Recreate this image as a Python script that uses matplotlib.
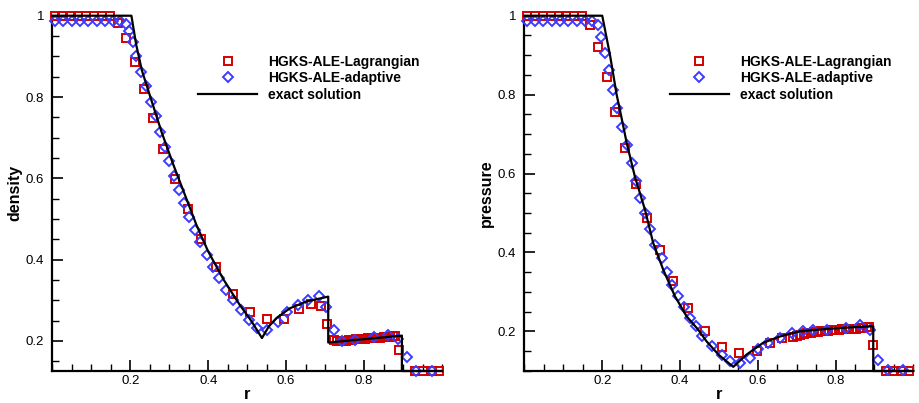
import numpy as np
import matplotlib
matplotlib.use('Agg')
import matplotlib.pyplot as plt
from matplotlib.ticker import MultipleLocator, FixedLocator, FuncFormatter

plt.rcParams['font.family'] = ['Liberation Sans', 'DejaVu Sans']

# ---------------- density ----------------
rho_exact_r = [0.0, 0.203, 0.215, 0.23, 0.255, 0.28, 0.31, 0.34, 0.37, 0.40, 0.44, 0.48, 0.51, 0.538,
               0.555, 0.575, 0.609, 0.652, 0.708, 0.708, 0.897, 0.897, 1.0]
rho_exact = [1.0, 1.0, 0.93, 0.865, 0.79, 0.715, 0.635, 0.56, 0.485, 0.42, 0.35, 0.29, 0.25, 0.207,
             0.235, 0.256, 0.280, 0.297, 0.309, 0.196, 0.213, 0.126, 0.126]

rho_lag_r = [0.007, 0.026, 0.047, 0.067, 0.086, 0.107, 0.127, 0.148, 0.169, 0.189, 0.212, 0.236,
             0.259, 0.285, 0.316, 0.348, 0.382, 0.421, 0.464, 0.508, 0.552, 0.595, 0.633, 0.665,
             0.690, 0.706, 0.722, 0.730, 0.738, 0.746, 0.754, 0.762, 0.770, 0.778, 0.786, 0.794,
             0.802, 0.810, 0.818, 0.826, 0.834, 0.842, 0.850, 0.858, 0.866, 0.873, 0.880, 0.890,
             0.930, 0.951, 0.973, 0.992]
rho_lag = [1.0, 1.0, 1.0, 1.0, 1.0, 1.0, 1.0, 1.0, 0.983, 0.944, 0.886, 0.819,
           0.748, 0.673, 0.598, 0.524, 0.451, 0.381, 0.316, 0.271, 0.253, 0.254, 0.279, 0.292,
           0.286, 0.242, 0.203, 0.200, 0.199, 0.200, 0.201, 0.202, 0.203, 0.204, 0.204, 0.205,
           0.205, 0.206, 0.207, 0.207, 0.208, 0.208, 0.209, 0.210, 0.210, 0.211, 0.212, 0.178,
           0.125, 0.125, 0.125, 0.125]

rho_ada_r = [0.007, 0.028, 0.050, 0.071, 0.092, 0.114, 0.135, 0.156, 0.175, 0.190, 0.198, 0.207,
             0.216, 0.227, 0.240, 0.252, 0.266, 0.276, 0.289, 0.300, 0.312, 0.326, 0.338, 0.351,
             0.366, 0.379, 0.397, 0.413, 0.428, 0.446, 0.464, 0.483, 0.505, 0.526, 0.552, 0.580,
             0.601, 0.631, 0.656, 0.684, 0.701, 0.723, 0.743, 0.776, 0.825, 0.862, 0.886, 0.910,
             0.933, 0.973]
rho_ada = [0.987, 0.987, 0.987, 0.987, 0.987, 0.987, 0.987, 0.987, 0.987, 0.980, 0.962, 0.935,
           0.900, 0.862, 0.826, 0.788, 0.753, 0.715, 0.678, 0.643, 0.606, 0.571, 0.539, 0.506,
           0.473, 0.444, 0.412, 0.383, 0.354, 0.326, 0.300, 0.277, 0.252, 0.231, 0.226, 0.247,
           0.270, 0.288, 0.301, 0.310, 0.283, 0.226, 0.199, 0.202, 0.209, 0.215, 0.205, 0.160,
           0.125, 0.125]

# ---------------- pressure ----------------
p_exact_r = [0.0, 0.2, 0.22, 0.237, 0.2455, 0.263, 0.284, 0.310, 0.331, 0.357, 0.387, 0.417, 0.447,
             0.468, 0.50, 0.537, 0.571, 0.614, 0.657, 0.708, 0.777, 0.837, 0.897, 0.897, 1.0]
p_exact = [1.0, 1.0, 0.90, 0.80, 0.761, 0.677, 0.592, 0.508, 0.424, 0.356, 0.289, 0.238, 0.204,
           0.175, 0.14, 0.11, 0.141, 0.171, 0.187, 0.200, 0.206, 0.210, 0.213, 0.0995, 0.0995]

p_lag_r = [0.006, 0.027, 0.047, 0.067, 0.088, 0.108, 0.128, 0.148, 0.168, 0.190, 0.211, 0.234,
           0.259, 0.287, 0.316, 0.348, 0.382, 0.421, 0.464, 0.508, 0.553, 0.597, 0.631, 0.663,
           0.691, 0.700, 0.709, 0.718, 0.727, 0.736, 0.745, 0.754, 0.763, 0.772, 0.781, 0.790,
           0.799, 0.808, 0.817, 0.826, 0.835, 0.844, 0.853, 0.862, 0.871, 0.880, 0.887, 0.896,
           0.929, 0.948, 0.970, 0.990]
p_lag = [1.0, 1.0, 1.0, 1.0, 1.0, 1.0, 1.0, 1.0, 0.976, 0.921, 0.844, 0.757,
         0.664, 0.573, 0.487, 0.406, 0.328, 0.259, 0.200, 0.161, 0.146, 0.150, 0.171, 0.182,
         0.186, 0.189, 0.191, 0.193, 0.195, 0.196, 0.198, 0.199, 0.200, 0.201, 0.202, 0.203,
         0.204, 0.204, 0.205, 0.205, 0.206, 0.207, 0.207, 0.208, 0.209, 0.210, 0.211, 0.165,
         0.100, 0.100, 0.100, 0.100]

p_ada_r = [0.006, 0.027, 0.048, 0.070, 0.091, 0.113, 0.134, 0.156, 0.173, 0.190, 0.197, 0.207,
           0.218, 0.228, 0.239, 0.250, 0.263, 0.276, 0.287, 0.297, 0.310, 0.324, 0.335, 0.353,
           0.366, 0.380, 0.396, 0.410, 0.425, 0.440, 0.456, 0.481, 0.507, 0.528, 0.554, 0.580,
           0.601, 0.627, 0.657, 0.687, 0.717, 0.742, 0.777, 0.828, 0.862, 0.888, 0.910, 0.935,
           0.974]
p_ada = [0.987, 0.987, 0.987, 0.987, 0.987, 0.987, 0.987, 0.987, 0.987, 0.976, 0.945, 0.905,
         0.863, 0.812, 0.767, 0.717, 0.673, 0.626, 0.582, 0.538, 0.500, 0.459, 0.419, 0.386,
         0.350, 0.317, 0.289, 0.261, 0.235, 0.213, 0.187, 0.162, 0.141, 0.124, 0.120, 0.133,
         0.154, 0.171, 0.183, 0.196, 0.200, 0.204, 0.204, 0.209, 0.217, 0.204, 0.128, 0.101,
         0.101]

labels = ['HGKS-ALE-Lagrangian', 'HGKS-ALE-adaptive', 'exact solution']
red = '#d40000'
blue = '#3c3cff'

fig = plt.figure(figsize=(9.19, 4.03), dpi=100)
ax1 = fig.add_axes([0.0569, 0.0794, 0.4241, 0.8816])
ax2 = fig.add_axes([0.5707, 0.0794, 0.4231, 0.8816])

panels = [
    (ax1, rho_lag_r, rho_lag, rho_ada_r, rho_ada, rho_exact_r, rho_exact, 'density', 0.126),
    (ax2, p_lag_r, p_lag, p_ada_r, p_ada, p_exact_r, p_exact, 'pressure', 0.0995),
]

for ax, lr, lv, ar, av, er, ev, name, ymin in panels:
    ax.plot(lr, lv, ls='none', marker='s', ms=6.0, mfc='none', mec=red, mew=1.4,
            label=labels[0], clip_on=False, zorder=3)
    ax.plot(ar, av, ls='none', marker='D', ms=5.2, mfc='none', mec=blue, mew=1.4,
            label=labels[1], clip_on=False, zorder=4)
    ax.plot(er, ev, color='black', lw=1.6, label=labels[2], clip_on=False, zorder=5)

    ax.set_xlim(0, 1)
    ax.set_ylim(ymin, 1.0)
    ax.spines['top'].set_visible(False)
    ax.spines['right'].set_visible(False)
    ax.spines['left'].set_linewidth(1.6)
    ax.spines['bottom'].set_linewidth(1.6)

    ax.xaxis.set_major_locator(FixedLocator([0.2, 0.4, 0.6, 0.8]))
    ax.xaxis.set_minor_locator(MultipleLocator(0.05))
    ax.yaxis.set_major_locator(FixedLocator([0.2, 0.4, 0.6, 0.8, 1.0]))
    ax.yaxis.set_minor_locator(MultipleLocator(0.05))
    ax.yaxis.set_major_formatter(FuncFormatter(lambda v, pos: '%g' % v))
    ax.tick_params(which='major', direction='in', length=8, width=1.2, labelsize=9.5)
    ax.tick_params(which='minor', direction='in', length=5, width=1.0)
    ax.tick_params(axis='x', which='major', pad=3)
    ax.tick_params(axis='y', which='major', pad=6)

    ax.set_xlabel('r', fontsize=12, fontweight='bold')
    ax.set_ylabel(name, fontsize=11.5, fontweight='bold')
    ax.xaxis.set_label_coords(0.5, -0.045)
    ax.yaxis.set_label_coords(-0.078, 0.5)

    ax.legend(loc='upper left', bbox_to_anchor=(0.373, 0.89), frameon=False, numpoints=1,
              handlelength=4.3, handletextpad=0.75, labelspacing=0.18, borderpad=0,
              borderaxespad=0, prop={'weight': 'bold', 'size': 10})

fig.savefig('out.png', dpi=100)
